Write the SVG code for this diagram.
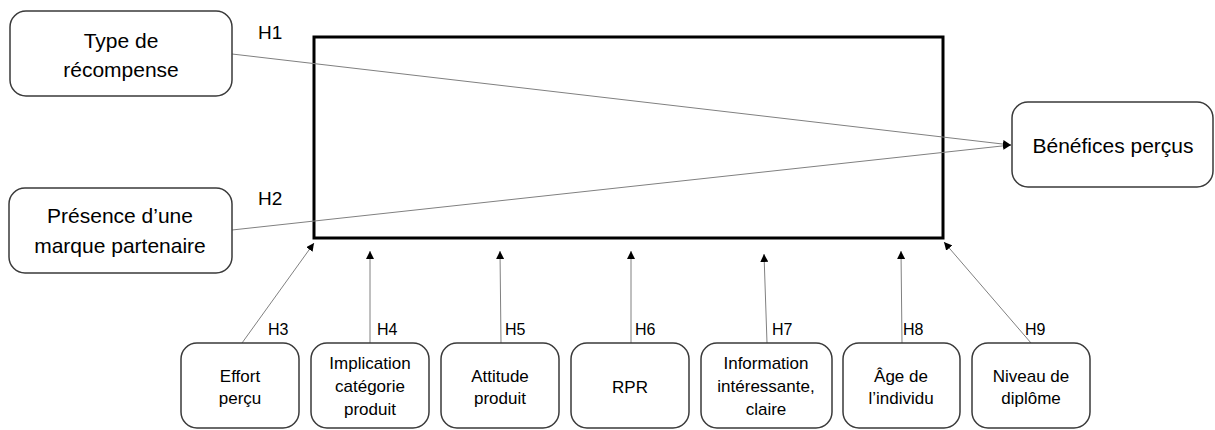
<svg xmlns="http://www.w3.org/2000/svg" width="1215" height="430" viewBox="0 0 1215 430">
<style>
.box{fill:#fff;stroke:#3a3a3a;stroke-width:1.5}
.big{font-family:"Liberation Sans",Arial,sans-serif;font-size:21px;fill:#000;text-anchor:middle}
.sm{font-family:"Liberation Sans",Arial,sans-serif;font-size:17px;fill:#000;text-anchor:middle}
.h{font-family:"Liberation Sans",Arial,sans-serif;font-size:16px;fill:#000}
.hb{font-family:"Liberation Sans",Arial,sans-serif;font-size:19px;fill:#000}
.ln{stroke:#808080;stroke-width:1;fill:none}
</style>
<defs>
<marker id="ah" viewBox="0 0 10 10" refX="10" refY="5" markerWidth="8" markerHeight="8" markerUnits="userSpaceOnUse" orient="auto">
<path d="M0,0 L10,5 L0,10 z" fill="#000"/>
</marker>
</defs>
<rect id="frame" x="314" y="37" width="629" height="201" fill="none" stroke="#000" stroke-width="3"/>
<g id="connectors">
<line class="ln" x1="232" y1="54" x2="1011" y2="145" marker-end="url(#ah)"/>
<line class="ln" x1="232" y1="230" x2="1011" y2="145" marker-end="url(#ah)"/>
<line class="ln" x1="242" y1="343" x2="314" y2="243" marker-end="url(#ah)"/>
<line class="ln" x1="370" y1="343" x2="370" y2="251" marker-end="url(#ah)"/>
<line class="ln" x1="501" y1="343" x2="500" y2="251" marker-end="url(#ah)"/>
<line class="ln" x1="631" y1="343" x2="631" y2="251" marker-end="url(#ah)"/>
<line class="ln" x1="767" y1="343" x2="764" y2="254" marker-end="url(#ah)"/>
<line class="ln" x1="902" y1="343" x2="901" y2="251" marker-end="url(#ah)"/>
<line class="ln" x1="1031" y1="343" x2="944" y2="242" marker-end="url(#ah)"/>
<text class="hb" x="258" y="39">H1</text>
<text class="hb" x="258" y="205">H2</text>
<text class="h" x="268" y="335">H3</text>
<text class="h" x="377" y="335">H4</text>
<text class="h" x="505" y="335">H5</text>
<text class="h" x="635" y="335">H6</text>
<text class="h" x="772" y="335">H7</text>
<text class="h" x="903" y="335">H8</text>
<text class="h" x="1025" y="335">H9</text>
</g>
<g id="n-type">
<rect class="box" x="10" y="11" width="222" height="85" rx="16"/>
<text class="big" x="121" y="48">Type de</text>
<text class="big" x="121" y="77">récompense</text>
</g>
<g id="n-presence">
<rect class="box" x="9" y="188" width="223" height="85" rx="16"/>
<text class="big" x="120" y="223">Présence d’une</text>
<text class="big" x="120" y="253">marque partenaire</text>
</g>
<g id="n-benefices">
<rect class="box" x="1012" y="102" width="201" height="85" rx="16"/>
<text class="big" x="1113" y="153">Bénéfices perçus</text>
</g>
<g id="n-effort">
<rect class="box" x="181" y="343" width="118" height="85" rx="16"/>
<text class="sm" x="240" y="382">Effort</text>
<text class="sm" x="240" y="404">perçu</text>
</g>
<g id="n-implication">
<rect class="box" x="311" y="343" width="118" height="85" rx="16"/>
<text class="sm" x="370" y="369">Implication</text>
<text class="sm" x="370" y="392">catégorie</text>
<text class="sm" x="370" y="415">produit</text>
</g>
<g id="n-attitude">
<rect class="box" x="441" y="343" width="118" height="85" rx="16"/>
<text class="sm" x="500" y="382">Attitude</text>
<text class="sm" x="500" y="404">produit</text>
</g>
<g id="n-rpr">
<rect class="box" x="571" y="343" width="118" height="85" rx="16"/>
<text class="sm" x="630" y="393">RPR</text>
</g>
<g id="n-information">
<rect class="box" x="701" y="343" width="131" height="85" rx="16"/>
<text class="sm" x="766" y="369">Information</text>
<text class="sm" x="766" y="392">intéressante,</text>
<text class="sm" x="766" y="415">claire</text>
</g>
<g id="n-age">
<rect class="box" x="843" y="343" width="117" height="85" rx="16"/>
<text class="sm" x="901" y="382">Âge de</text>
<text class="sm" x="901" y="404">l’individu</text>
</g>
<g id="n-niveau">
<rect class="box" x="972" y="343" width="118" height="85" rx="16"/>
<text class="sm" x="1031" y="382">Niveau de</text>
<text class="sm" x="1031" y="404">diplôme</text>
</g>
</svg>
